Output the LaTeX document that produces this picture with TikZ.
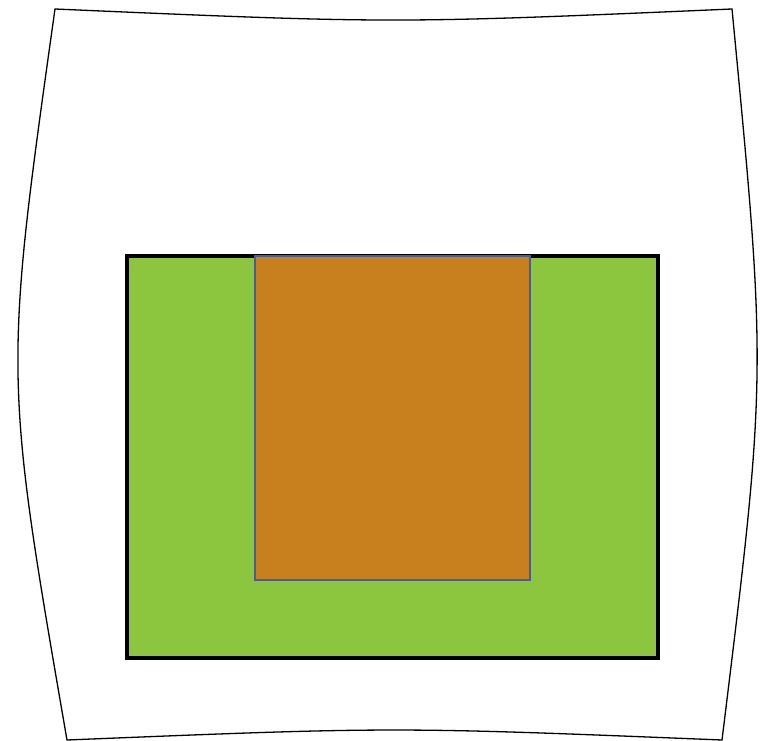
\documentclass[tikz,border=0pt]{standalone}
\definecolor{grn}{HTML}{8CC63F}
\definecolor{org}{HTML}{C8801E}
\definecolor{blu}{HTML}{3F5F9F}
\begin{document}
\begin{tikzpicture}[x=1pt,y=-1pt,
  outline/.style={draw=black,line width=1.3pt,line join=miter},
  outerbox/.style={fill=grn,draw=black,line width=3.2pt},
  innerbox/.style={fill=org,draw=blu,line width=1.6pt}]
\useasboundingbox (0,0) rectangle (760,741);
\coordinate (tl) at (55,9);
\coordinate (tr) at (732,9);
\coordinate (br) at (722,740);
\coordinate (bl) at (67,740);
\draw[outline] (tl) .. controls (393,23.7) .. (tr)
  .. controls (767,374) .. (br)
  .. controls (394,726.7) .. (bl)
  .. controls (3.7,374) .. cycle;
\path[outerbox] (127,256) rectangle (658,658);
\path[innerbox] (255,256) rectangle (530,580);
\end{tikzpicture}
\end{document}
